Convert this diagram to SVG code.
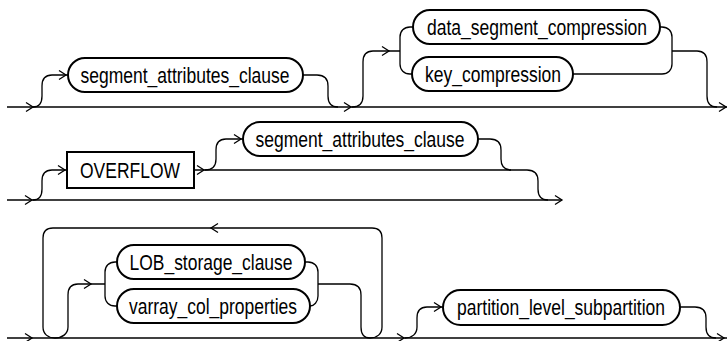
<svg xmlns="http://www.w3.org/2000/svg" width="727" height="341" viewBox="0 0 727 341">
<style>
.ln{fill:none;stroke:#000;stroke-width:1.3}
.nd{fill:#fff;stroke:#000;stroke-width:2}
.ar{fill:none;stroke:#000;stroke-width:1.3}
text{font-family:"Liberation Sans",Arial,sans-serif;font-size:22px;fill:#000;text-anchor:middle}
</style>
<defs>
<path id="a" class="ar" d="M-7,-4.5 L0,0 L-7,4.5"/>
</defs>
<rect width="727" height="341" fill="#fff"/>
<g id="connectors">
<path class="ln" d="M7,107 L727,107"/>
<path class="ln" d="M33,107 C39,107 42,103 42,96 L42,86 C42,79 45,75 52,75 L68,75"/>
<path class="ln" d="M303,75 L317,75 C324,75 328,79 328,86 L328,96 C328,103 331,107 338,107"/>
<path class="ln" d="M352,107 C359,107 363,103 363,96 L363,62 C363,55 366,51 373,51 L400,51"/>
<path class="ln" d="M400,51 L400,37 C400,31 404,27 410,27 L413,27 M400,51 L400,64 C400,70 404,74 410,74 L412,74"/>
<path class="ln" d="M660,27 L662,27 C668,27 672,31 672,37 L672,64 C672,70 668,74 662,74 L573,74"/>
<path class="ln" d="M672,51 L697,51 C704,51 707,55 707,62 L707,96 C707,103 710,107 717,107"/>
<use href="#a" transform="translate(33,107)"/>
<use href="#a" transform="translate(66,75)"/>
<use href="#a" transform="translate(351,107)"/>
<use href="#a" transform="translate(389,51)"/>
<use href="#a" transform="translate(726,107)"/>
<path class="ln" d="M7,200 L562,200"/>
<path class="ln" d="M33,200 C39,200 42,196 42,189 L42,181 C42,174 45,170 52,170 L67,170"/>
<path class="ln" d="M194,170 L527,170"/>
<path class="ln" d="M205,170 C212,170 216,166 216,159 L216,150 C216,143 219,139 226,139 L243,139"/>
<path class="ln" d="M478,139 L490,139 C497,139 501,143 501,150 L501,159 C501,166 504,170 511,170"/>
<path class="ln" d="M527,170 C534,170 538,174 538,181 L538,189 C538,196 541,200 548,200"/>
<use href="#a" transform="translate(32,200)"/>
<use href="#a" transform="translate(65,170)"/>
<use href="#a" transform="translate(204,170)"/>
<use href="#a" transform="translate(241,139)"/>
<use href="#a" transform="translate(562,200)"/>
<path class="ln" d="M7,338 L727,338"/>
<path class="ln" d="M55,338 C48,338 43,334 43,327 L43,238 C43,231 46,228 53,228 L372,228 C379,228 382,231 382,238 L382,327 C382,334 377,338 370,338"/>
<path class="ln" d="M55,338 C62,338 68,334 68,327 L68,295 C68,288 71,284 78,284 L105,284"/>
<path class="ln" d="M105,284 L105,272 C105,266 109,262 115,262 L117,262 M105,284 L105,296 C105,302 109,306 115,306 L117,306"/>
<path class="ln" d="M305,262 L308,262 C314,262 318,266 318,272 L318,296 C318,302 314,306 310,306"/>
<path class="ln" d="M318,284 L350,284 C357,284 361,288 361,295 L361,327 C361,334 364,338 370,338"/>
<path class="ln" d="M405,338 C412,338 417,334 417,327 L417,318 C417,311 420,307 427,307 L443,307"/>
<path class="ln" d="M680,307 L695,307 C702,307 706,311 706,318 L706,327 C706,334 709,338 716,338"/>
<use href="#a" transform="translate(32,338)"/>
<use href="#a" transform="translate(211,228) rotate(180)"/>
<use href="#a" transform="translate(91,284)"/>
<use href="#a" transform="translate(404,338)"/>
<use href="#a" transform="translate(441,307)"/>
<use href="#a" transform="translate(724,338)"/>
</g>
<g id="n1"><rect class="nd" x="68" y="58" width="235" height="34" rx="17"/><text x="185" y="83" textLength="209" lengthAdjust="spacingAndGlyphs">segment_attributes_clause</text></g>
<g id="n2"><rect class="nd" x="413" y="10" width="247" height="34" rx="17"/><text x="537" y="35" textLength="220" lengthAdjust="spacingAndGlyphs">data_segment_compression</text></g>
<g id="n3"><rect class="nd" x="412" y="57" width="161" height="34" rx="17"/><text x="493" y="82" textLength="136" lengthAdjust="spacingAndGlyphs">key_compression</text></g>
<g id="n4"><rect class="nd" x="67" y="152" width="127" height="36"/><text x="130" y="178" textLength="100" lengthAdjust="spacingAndGlyphs">OVERFLOW</text></g>
<g id="n5"><rect class="nd" x="243" y="122" width="235" height="34" rx="17"/><text x="360" y="147" textLength="209" lengthAdjust="spacingAndGlyphs">segment_attributes_clause</text></g>
<g id="n6"><rect class="nd" x="117" y="245" width="188" height="34" rx="17"/><text x="211" y="270" textLength="163" lengthAdjust="spacingAndGlyphs">LOB_storage_clause</text></g>
<g id="n7"><rect class="nd" x="117" y="289" width="193" height="34" rx="17"/><text x="213" y="314" textLength="168" lengthAdjust="spacingAndGlyphs">varray_col_properties</text></g>
<g id="n8"><rect class="nd" x="443" y="290" width="237" height="35" rx="17.5"/><text x="561" y="315" textLength="208" lengthAdjust="spacingAndGlyphs">partition_level_subpartition</text></g>
</svg>
